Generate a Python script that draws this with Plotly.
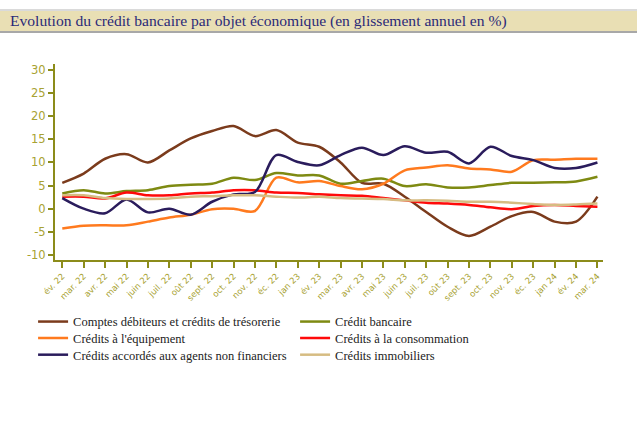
import plotly.graph_objects as go

months = ["év. 22", "mar. 22", "avr. 22", "mai 22", "juin 22", "juil. 22", "oût 22",
          "sept. 22", "oct. 22", "nov. 22", "éc. 22", "jan 23", "év. 23", "mar. 23",
          "avr. 23", "mai 23", "juin 23", "juil. 23", "oût 23", "sept. 23", "oct. 23",
          "nov. 23", "éc. 23", "jan 24", "év. 24", "mar. 24"]

comptes_debiteurs = [5.6, 7.6, 10.8, 11.8, 10.0, 12.6, 15.2, 16.8, 17.9, 15.7, 17.0, 14.3, 13.4,
                     10.0, 5.6, 5.4, 2.6, -0.7, -3.9, -5.9, -3.9, -1.6, -0.7, -2.8, -2.8, 2.6]
credit_bancaire = [3.3, 4.0, 3.3, 3.8, 4.0, 4.9, 5.2, 5.4, 6.7, 6.2, 7.7, 7.2, 7.2,
                   5.4, 6.0, 6.5, 4.9, 5.3, 4.6, 4.6, 5.1, 5.6, 5.6, 5.7, 5.9, 6.9]
credits_equipement = [-4.3, -3.7, -3.6, -3.6, -2.8, -1.9, -1.3, -0.1, 0.0, -0.5, 6.7, 5.7, 6.0,
                      4.9, 4.2, 5.4, 8.3, 8.9, 9.4, 8.7, 8.5, 8.0, 10.5, 10.6, 10.8, 10.8]
credits_consommation = [2.6, 2.6, 2.2, 3.5, 2.9, 2.9, 3.3, 3.5, 4.0, 4.0, 3.5, 3.4, 3.1,
                        2.9, 2.8, 2.3, 1.8, 1.3, 1.1, 0.8, 0.3, -0.1, 0.6, 0.8, 0.6, 0.4]
credits_anf = [2.3, 0.0, -1.0, 2.0, -0.8, 0.0, -1.3, 1.5, 3.1, 3.6, 11.6, 10.1, 9.4,
               11.6, 13.2, 11.6, 13.5, 12.1, 12.3, 9.8, 13.4, 11.4, 10.5, 8.8, 8.8, 10.0]
credits_immobiliers = [2.9, 2.9, 2.3, 2.1, 2.1, 2.2, 2.6, 2.7, 2.9, 2.9, 2.6, 2.4, 2.6,
                       2.3, 2.2, 2.1, 1.8, 1.8, 1.7, 1.5, 1.5, 1.3, 1.0, 0.8, 0.9, 1.1]

y_ticks = [-10, -5, 0, 5, 10, 15, 20, 25, 30]

series = [
    ("Comptes débiteurs et crédits de trésorerie", comptes_debiteurs, "#7B3B1C", "legend"),
    ("Crédit bancaire", credit_bancaire, "#7E8A12", "legend"),
    ("Crédits à l'équipement", credits_equipement, "#FF7A1E", "legend2"),
    ("Crédits à la consommation", credits_consommation, "#FF0A0A", "legend2"),
    ("Crédits accordés aux agents non financiers", credits_anf, "#2A1C5C", "legend3"),
    ("Crédits immobiliers", credits_immobiliers, "#D6BC82", "legend3"),
]

x = list(range(len(months)))
fig = go.Figure()
for name, vals, col, lg in series:
    fig.add_trace(go.Scatter(x=x, y=vals, name=name, mode="lines", legend=lg,
                             line=dict(color=col, width=2.5, shape="spline", smoothing=0.9)))

axis_col = "#8C8C1A"
tick_font_col = "#A8A232"

def leg(yc):
    return dict(orientation="h", x=-0.04, xanchor="left", y=yc, yanchor="middle",
                entrywidth=217, entrywidthmode="pixels", itemwidth=30,
                bgcolor="rgba(0,0,0,0)",
                font=dict(family="Liberation Serif", size=12.5, color="#222222"),
                traceorder="normal")

fig.update_layout(
    width=637, height=446,
    margin=dict(l=55, r=34, t=64, b=186),
    paper_bgcolor="white", plot_bgcolor="white",
    showlegend=True,
    legend=leg(-0.316),
    legend2=leg(-0.4005),
    legend3=leg(-0.485),
    shapes=[
        dict(type="rect", xref="paper", yref="paper", x0=-0.11, x1=1.07, y0=1.163, y1=1.2755,
             fillcolor="#E9DFB4", line=dict(width=0), layer="below"),
        dict(type="line", xref="paper", yref="paper", x0=-0.11, x1=1.07, y0=1.163, y1=1.163,
             line=dict(color="#A8A8A8", width=2)),
        dict(type="line", xref="paper", yref="paper", x0=-0.11, x1=1.07, y0=1.2755, y1=1.2755,
             line=dict(color="#DADADA", width=2)),
    ],
    annotations=[
        dict(text="Evolution du crédit bancaire par objet économique (en glissement annuel en %)",
             xref="paper", yref="paper", x=-0.0858, y=1.219, xanchor="left", yanchor="middle",
             showarrow=False, font=dict(family="Liberation Serif", size=15.6, color="#2B2A78")),
    ],
)

fig.update_xaxes(range=[-0.34, 25.26], tickvals=x, ticktext=months, tickangle=-45,
                 showline=True, linecolor=axis_col, linewidth=2, ticks="outside",
                 ticklen=6, tickwidth=2, tickcolor=axis_col, showgrid=False, zeroline=False,
                 tickfont=dict(family="DejaVu Sans", size=8.5, color=tick_font_col))
fig.update_yaxes(range=[-11.1, 31.3], tickvals=y_ticks, ticktext=[str(v) for v in y_ticks],
                 showline=True, linecolor=axis_col, linewidth=2, ticks="outside",
                 ticklen=5, tickwidth=2, tickcolor=axis_col, showgrid=False, zeroline=False,
                 tickfont=dict(family="DejaVu Sans", size=11.5, color=tick_font_col))

fig.write_html("out.html", config={"displayModeBar": False},
               post_script="document.body.style.margin='0';")
